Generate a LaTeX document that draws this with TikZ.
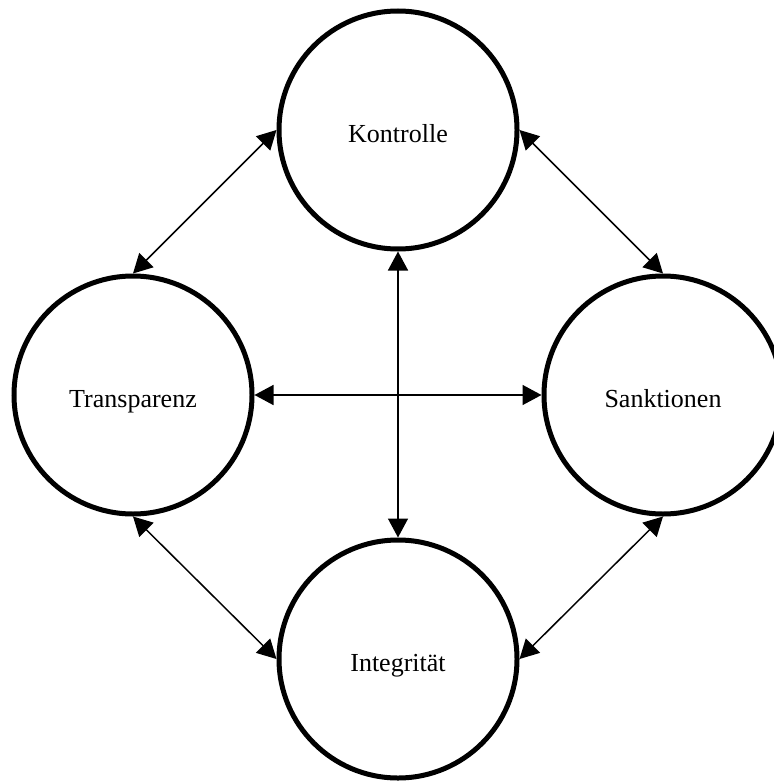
\documentclass[tikz,border=0pt]{standalone}
\usepackage{fontspec}
\setmainfont{Liberation Serif}
\usetikzlibrary{arrows.meta}

\begin{document}
\begin{tikzpicture}[x=0.5pt,y=-0.5pt,
  element/.style={circle, draw, line width=2.5pt, minimum size=119pt, inner sep=0pt,
    text height=12pt, text depth=0pt, font=\fontsize{13}{15}\selectfont},
  link/.style={{Triangle[length=9.5pt,width=10pt]}-{Triangle[length=9.5pt,width=10pt]},
    line width=0.75pt}]
\path[use as bounding box,fill=white] (0,0) rectangle (774,781);

\node[element] (kontrolle) at (398,130) {Kontrolle};
\node[element] (transparenz) at (133,395) {Transparenz};
\node[element] (sanktionen) at (663,395) {Sanktionen};
\node[element] (integritaet) at (398,659) {Integrität};

\draw[link] (kontrolle.west) -- (transparenz.north);
\draw[link] (kontrolle.east) -- (sanktionen.north);
\draw[link] (transparenz.south) -- (integritaet.west);
\draw[link] (sanktionen.south) -- (integritaet.east);
\draw[link] (transparenz.east) -- (sanktionen.west);
\draw[link] (kontrolle.south) -- (integritaet.north);
\end{tikzpicture}
\end{document}
